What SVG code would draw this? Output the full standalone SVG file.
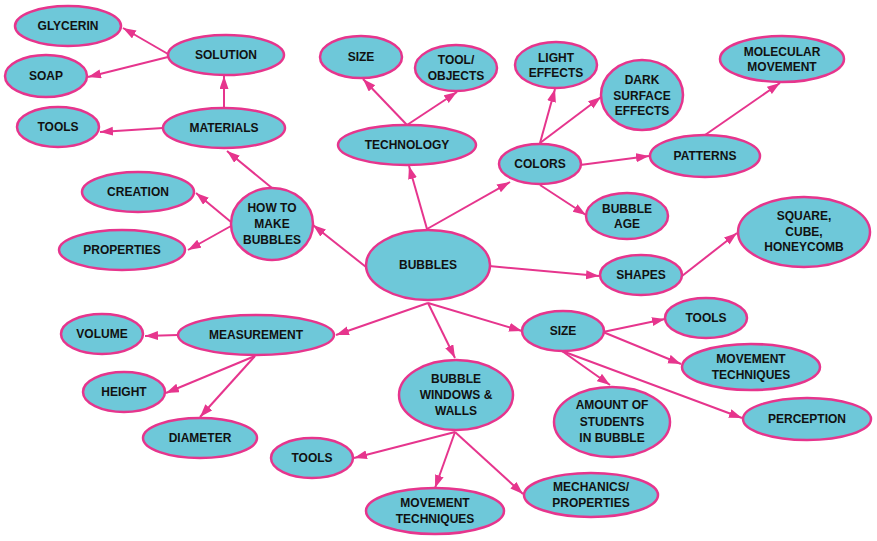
<svg xmlns="http://www.w3.org/2000/svg" width="877" height="541" viewBox="0 0 877 541">
<style>
.n ellipse{fill:#6ec8d9;stroke:#e6358d;stroke-width:2.5}
.n text{font-family:"Liberation Sans","DejaVu Sans",sans-serif;font-size:12px;font-weight:bold;fill:#111;text-anchor:middle}
#connectors line{stroke:#e6358d;stroke-width:2;marker-end:url(#ah)}
</style>
<defs>
<marker id="ah" markerUnits="userSpaceOnUse" markerWidth="14" markerHeight="10" refX="13" refY="4.5" orient="auto">
<path d="M0,0 L13,4.5 L0,9 z" fill="#e6358d"/>
</marker>
</defs>
<rect width="877" height="541" fill="#fff"/>
<g id="connectors">
<line x1="168" y1="54" x2="123" y2="28"/>
<line x1="168" y1="57" x2="88" y2="77"/>
<line x1="224" y1="108" x2="224" y2="76"/>
<line x1="163" y1="128" x2="100" y2="132"/>
<line x1="272" y1="188" x2="227" y2="151"/>
<line x1="231" y1="222" x2="196" y2="193"/>
<line x1="231" y1="226" x2="188" y2="250"/>
<line x1="366" y1="267" x2="313" y2="225"/>
<line x1="427" y1="229" x2="409" y2="166"/>
<line x1="407" y1="125" x2="363" y2="79"/>
<line x1="407" y1="125" x2="457" y2="92"/>
<line x1="427" y1="229" x2="510" y2="182"/>
<line x1="540" y1="143" x2="555" y2="89"/>
<line x1="540" y1="143" x2="601" y2="97"/>
<line x1="580" y1="165" x2="649" y2="156"/>
<line x1="705" y1="135" x2="780" y2="83"/>
<line x1="540" y1="185" x2="586" y2="215"/>
<line x1="489" y1="266" x2="599" y2="276"/>
<line x1="682" y1="276" x2="737" y2="233"/>
<line x1="428" y1="303" x2="336" y2="335"/>
<line x1="428" y1="303" x2="455" y2="358"/>
<line x1="428" y1="303" x2="522" y2="331"/>
<line x1="603" y1="332" x2="665" y2="319"/>
<line x1="603" y1="332" x2="681" y2="364"/>
<line x1="562" y1="351" x2="610" y2="385"/>
<line x1="562" y1="351" x2="742" y2="418"/>
<line x1="178" y1="335" x2="145" y2="336"/>
<line x1="255" y1="356" x2="166" y2="393"/>
<line x1="255" y1="356" x2="200" y2="417"/>
<line x1="455" y1="432" x2="354" y2="458"/>
<line x1="455" y1="432" x2="435" y2="488"/>
<line x1="455" y1="432" x2="523" y2="494"/>
</g>
<g id="glycerin" class="n"><ellipse cx="68" cy="26" rx="53" ry="20"/><text x="68" y="30">GLYCERIN</text></g>
<g id="solution" class="n"><ellipse cx="226" cy="55" rx="58" ry="20"/><text x="226" y="59">SOLUTION</text></g>
<g id="soap" class="n"><ellipse cx="46" cy="76" rx="41" ry="21"/><text x="46" y="80">SOAP</text></g>
<g id="tools1" class="n"><ellipse cx="58" cy="127" rx="41" ry="20"/><text x="58" y="131">TOOLS</text></g>
<g id="materials" class="n"><ellipse cx="224" cy="128" rx="61" ry="20"/><text x="224" y="132">MATERIALS</text></g>
<g id="size1" class="n"><ellipse cx="361" cy="57" rx="41" ry="21"/><text x="361" y="61">SIZE</text></g>
<g id="toolobjects" class="n"><ellipse cx="456" cy="68" rx="41" ry="23"/><text x="456" y="64">TOOL/</text><text x="456" y="80">OBJECTS</text></g>
<g id="technology" class="n"><ellipse cx="407" cy="145" rx="69" ry="20"/><text x="407" y="149">TECHNOLOGY</text></g>
<g id="light" class="n"><ellipse cx="556" cy="65" rx="41" ry="23"/><text x="556" y="62">LIGHT</text><text x="556" y="77">EFFECTS</text></g>
<g id="dark" class="n"><ellipse cx="642" cy="95" rx="41" ry="35"/><text x="642" y="84">DARK</text><text x="642" y="100">SURFACE</text><text x="642" y="115">EFFECTS</text></g>
<g id="molecular" class="n"><ellipse cx="782" cy="59" rx="62" ry="23"/><text x="782" y="56">MOLECULAR</text><text x="782" y="71">MOVEMENT</text></g>
<g id="colors" class="n"><ellipse cx="540" cy="164" rx="41" ry="20"/><text x="540" y="168">COLORS</text></g>
<g id="patterns" class="n"><ellipse cx="705" cy="156" rx="55" ry="21"/><text x="705" y="160">PATTERNS</text></g>
<g id="creation" class="n"><ellipse cx="138" cy="192" rx="56" ry="20"/><text x="138" y="196">CREATION</text></g>
<g id="howto" class="n"><ellipse cx="272" cy="224" rx="41" ry="36"/><text x="272" y="212">HOW TO</text><text x="272" y="228">MAKE</text><text x="272" y="244">BUBBLES</text></g>
<g id="properties" class="n"><ellipse cx="122" cy="250" rx="63" ry="20"/><text x="122" y="254">PROPERTIES</text></g>
<g id="bubbleage" class="n"><ellipse cx="627" cy="216" rx="41" ry="23"/><text x="627" y="213">BUBBLE</text><text x="627" y="228">AGE</text></g>
<g id="bubbles" class="n"><ellipse cx="428" cy="265" rx="62" ry="35"/><text x="428" y="269">BUBBLES</text></g>
<g id="shapes" class="n"><ellipse cx="641" cy="275" rx="41" ry="20"/><text x="641" y="279">SHAPES</text></g>
<g id="square" class="n"><ellipse cx="804" cy="232" rx="66" ry="35"/><text x="804" y="220">SQUARE,</text><text x="804" y="236">CUBE,</text><text x="804" y="251">HONEYCOMB</text></g>
<g id="volume" class="n"><ellipse cx="102" cy="334" rx="41" ry="20"/><text x="102" y="338">VOLUME</text></g>
<g id="measurement" class="n"><ellipse cx="256" cy="335" rx="78" ry="20"/><text x="256" y="339">MEASUREMENT</text></g>
<g id="size2" class="n"><ellipse cx="563" cy="331" rx="41" ry="20"/><text x="563" y="335">SIZE</text></g>
<g id="tools2" class="n"><ellipse cx="706" cy="318" rx="41" ry="20"/><text x="706" y="322">TOOLS</text></g>
<g id="movement2" class="n"><ellipse cx="751" cy="367" rx="69" ry="23"/><text x="751" y="363">MOVEMENT</text><text x="751" y="379">TECHNIQUES</text></g>
<g id="height" class="n"><ellipse cx="124" cy="392" rx="41" ry="20"/><text x="124" y="396">HEIGHT</text></g>
<g id="windows" class="n"><ellipse cx="456" cy="395" rx="57" ry="35"/><text x="456" y="383">BUBBLE</text><text x="456" y="399">WINDOWS &amp;</text><text x="456" y="415">WALLS</text></g>
<g id="amount" class="n"><ellipse cx="612" cy="422" rx="58" ry="35"/><text x="612" y="409">AMOUNT OF</text><text x="612" y="426">STUDENTS</text><text x="612" y="442">IN BUBBLE</text></g>
<g id="perception" class="n"><ellipse cx="807" cy="419" rx="64" ry="21"/><text x="807" y="423">PERCEPTION</text></g>
<g id="diameter" class="n"><ellipse cx="200" cy="438" rx="57" ry="20"/><text x="200" y="442">DIAMETER</text></g>
<g id="tools3" class="n"><ellipse cx="312" cy="458" rx="41" ry="20"/><text x="312" y="462">TOOLS</text></g>
<g id="movement3" class="n"><ellipse cx="435" cy="511" rx="69" ry="23"/><text x="435" y="507">MOVEMENT</text><text x="435" y="523">TECHNIQUES</text></g>
<g id="mechanics" class="n"><ellipse cx="591" cy="495" rx="67" ry="22"/><text x="591" y="491">MECHANICS/</text><text x="591" y="507">PROPERTIES</text></g>
</svg>
